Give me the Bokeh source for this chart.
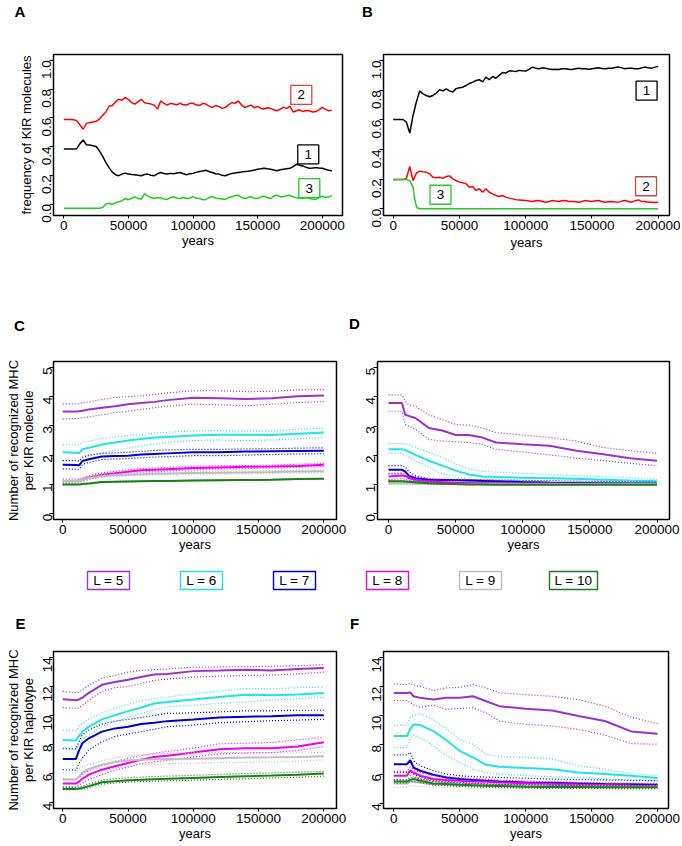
import math
from bokeh.plotting import figure
from bokeh.models import Range1d, FixedTicker, PrintfTickFormatter
from bokeh.layouts import column, row
from bokeh.embed import file_html
from bokeh.resources import INLINE
from bokeh.core.properties import value

FONT = "Liberation Sans"
TOTAL_W = 680

# ---------------- axis ticks ----------------
X_TICKS = [0, 50000, 100000, 150000, 200000]
FREQ_TICKS = [0.0, 0.2, 0.4, 0.6, 0.8, 1.0]
MOL_TICKS = [0, 1, 2, 3, 4, 5]
HAP_TICKS = [4, 6, 8, 10, 12, 14]

# ---------------- panel A / B : KIR frequencies ----------------
A_YEARS = list(range(0, 207501, 2500))
A_KIR1 = [0.382, 0.382, 0.382, 0.382, 0.385, 0.420, 0.445, 0.412, 0.410, 0.405,
          0.400, 0.370, 0.333, 0.290, 0.253, 0.222, 0.204, 0.197, 0.208, 0.215,
          0.208, 0.205, 0.204, 0.200, 0.197, 0.205, 0.208, 0.200, 0.197, 0.210,
          0.219, 0.212, 0.208, 0.213, 0.210, 0.215, 0.219, 0.210, 0.204, 0.210,
          0.213, 0.220, 0.226, 0.230, 0.235, 0.225, 0.219, 0.210, 0.208, 0.200,
          0.197, 0.205, 0.213, 0.215, 0.219, 0.222, 0.226, 0.228, 0.231, 0.236,
          0.242, 0.245, 0.249, 0.245, 0.242, 0.236, 0.231, 0.238, 0.242, 0.246,
          0.249, 0.260, 0.276, 0.270, 0.265, 0.255, 0.249, 0.250, 0.253, 0.250,
          0.249, 0.242, 0.235, 0.232]
A_KIR2 = [0.588, 0.588, 0.588, 0.586, 0.580, 0.550, 0.520, 0.560, 0.566, 0.570,
          0.575, 0.590, 0.615, 0.640, 0.680, 0.685, 0.710, 0.728, 0.722, 0.740,
          0.728, 0.705, 0.695, 0.712, 0.728, 0.705, 0.700, 0.695, 0.688, 0.660,
          0.717, 0.700, 0.688, 0.700, 0.695, 0.690, 0.701, 0.690, 0.688, 0.700,
          0.701, 0.690, 0.685, 0.700, 0.695, 0.680, 0.672, 0.685, 0.679, 0.665,
          0.672, 0.690, 0.706, 0.700, 0.717, 0.690, 0.672, 0.680, 0.688, 0.670,
          0.679, 0.665, 0.661, 0.670, 0.665, 0.655, 0.649, 0.660, 0.672, 0.665,
          0.679, 0.640, 0.649, 0.655, 0.643, 0.650, 0.649, 0.640, 0.643, 0.655,
          0.672, 0.660, 0.649, 0.652]
A_KIR3 = [-0.029, -0.029, -0.029, -0.029, -0.029, -0.029, -0.029, -0.029, -0.029, -0.029,
          -0.029, -0.029, -0.025, 0.000, 0.005, -0.003, 0.009, 0.015, 0.023, 0.038,
          0.030, 0.040, 0.050, 0.038, 0.034, 0.072, 0.055, 0.045, 0.038, 0.045,
          0.043, 0.035, 0.032, 0.045, 0.050, 0.040, 0.038, 0.045, 0.038, 0.042,
          0.050, 0.040, 0.038, 0.030, 0.032, 0.045, 0.050, 0.042, 0.038, 0.035,
          0.032, 0.045, 0.050, 0.058, 0.061, 0.045, 0.038, 0.045, 0.050, 0.040,
          0.038, 0.050, 0.054, 0.045, 0.038, 0.055, 0.061, 0.050, 0.050, 0.058,
          0.061, 0.050, 0.043, 0.040, 0.038, 0.045, 0.038, 0.035, 0.032, 0.045,
          0.054, 0.045, 0.050, 0.058]

B_YEARS = list(range(0, 200001, 2500))
B_KIR1 = [0.602, 0.602, 0.602, 0.602, 0.584, 0.510, 0.630, 0.720, 0.795, 0.775,
          0.764, 0.755, 0.764, 0.780, 0.802, 0.795, 0.809, 0.795, 0.787, 0.810,
          0.816, 0.820, 0.831, 0.845, 0.854, 0.865, 0.870, 0.855, 0.888, 0.870,
          0.892, 0.880, 0.899, 0.918, 0.915, 0.930, 0.928, 0.925, 0.933, 0.930,
          0.928, 0.940, 0.955, 0.948, 0.944, 0.950, 0.948, 0.942, 0.939, 0.940,
          0.939, 0.944, 0.944, 0.940, 0.939, 0.944, 0.948, 0.944, 0.944, 0.940,
          0.944, 0.948, 0.950, 0.945, 0.944, 0.948, 0.948, 0.952, 0.955, 0.950,
          0.944, 0.948, 0.948, 0.944, 0.944, 0.950, 0.955, 0.950, 0.948, 0.955,
          0.960]
B_KIR2 = [0.198, 0.198, 0.198, 0.198, 0.205, 0.285, 0.190, 0.240, 0.254, 0.250,
          0.247, 0.236, 0.213, 0.210, 0.213, 0.205, 0.218, 0.222, 0.202, 0.191,
          0.180, 0.175, 0.169, 0.146, 0.150, 0.124, 0.135, 0.112, 0.135, 0.112,
          0.101, 0.090, 0.083, 0.090, 0.079, 0.072, 0.067, 0.062, 0.060, 0.058,
          0.056, 0.052, 0.050, 0.055, 0.056, 0.050, 0.045, 0.050, 0.056, 0.052,
          0.050, 0.054, 0.056, 0.050, 0.049, 0.047, 0.045, 0.050, 0.056, 0.052,
          0.050, 0.055, 0.056, 0.050, 0.045, 0.048, 0.050, 0.046, 0.045, 0.052,
          0.056, 0.050, 0.045, 0.055, 0.060, 0.050, 0.049, 0.045, 0.045, 0.042,
          0.045]
B3_YEARS = [0, 10000, 12500, 15000, 16000, 17000, 18000, 20000, 200000]
B_KIR3 = [0.198, 0.198, 0.190, 0.146, 0.079, 0.034, 0.007, 0.000, 0.000]

A_TAG_TEXT = ["2", "1", "3"]
A_TAG_X = [183800, 189200, 190000]
A_TAG_Y = [0.759, 0.345, 0.110]
A_TAG_COLOR = ["#E8413A", "#000000", "#22CC22"]
B_TAG_TEXT = ["1", "2", "3"]
B_TAG_X = [191200, 190800, 35700]
B_TAG_Y = [0.797, 0.152, 0.095]
B_TAG_COLOR = ["#000000", "#B5523B", "#22CC22"]

# ---------------- panels C-F : recognised MHC ----------------
GRID = [0, 10000, 12500, 15000, 20000, 30000, 40000, 50000, 60000,
        70000, 80000, 100000, 120000, 140000, 160000, 180000, 200000]

LEVEL_LABELS = ["L = 5", "L = 6", "L = 7", "L = 8", "L = 9", "L = 10"]
LEVEL_COLORS = ["#9932CC", "#22E3E3", "#0000CD", "#EE00EE", "#BEBEBE", "#1A7F1A"]

# C : per KIR molecule, scenario 1
C5_mean = [3.49, 3.49, 3.50, 3.52, 3.56, 3.62, 3.67, 3.74, 3.78, 3.82, 3.88, 3.96, 3.94, 3.92, 3.94, 4.01, 4.04]
C5_hi = [3.75, 3.75, 3.76, 3.78, 3.82, 3.90, 3.97, 4.00, 4.03, 4.07, 4.13, 4.20, 4.20, 4.17, 4.18, 4.23, 4.24]
C5_lo = [3.24, 3.25, 3.26, 3.28, 3.31, 3.38, 3.45, 3.50, 3.56, 3.62, 3.68, 3.74, 3.72, 3.69, 3.74, 3.80, 3.83]
C6_mean = [2.10, 2.08, 2.07, 2.20, 2.25, 2.36, 2.43, 2.50, 2.55, 2.60, 2.62, 2.67, 2.70, 2.70, 2.69, 2.73, 2.77]
C6_hi = [2.36, 2.35, 2.34, 2.44, 2.48, 2.56, 2.62, 2.67, 2.70, 2.75, 2.78, 2.83, 2.84, 2.82, 2.82, 2.88, 2.92]
C6_lo = [1.83, 1.81, 1.80, 1.90, 1.97, 2.08, 2.16, 2.24, 2.32, 2.38, 2.43, 2.50, 2.52, 2.50, 2.52, 2.56, 2.60]
C7_mean = [1.67, 1.66, 1.65, 1.80, 1.86, 1.95, 1.97, 1.98, 2.02, 2.04, 2.06, 2.10, 2.10, 2.12, 2.13, 2.14, 2.15]
C7_hi = [1.81, 1.81, 1.80, 1.93, 2.00, 2.06, 2.08, 2.10, 2.13, 2.16, 2.18, 2.20, 2.20, 2.21, 2.22, 2.24, 2.25]
C7_lo = [1.53, 1.52, 1.51, 1.68, 1.75, 1.85, 1.87, 1.88, 1.91, 1.93, 1.95, 1.98, 1.98, 2.00, 2.02, 2.04, 2.05]
C8_mean = [1.12, 1.12, 1.13, 1.17, 1.24, 1.33, 1.38, 1.43, 1.48, 1.50, 1.52, 1.56, 1.58, 1.60, 1.61, 1.63, 1.67]
C8_hi = [1.18, 1.18, 1.19, 1.23, 1.30, 1.39, 1.45, 1.50, 1.54, 1.56, 1.58, 1.62, 1.64, 1.65, 1.66, 1.69, 1.72]
C8_lo = [1.06, 1.06, 1.07, 1.11, 1.18, 1.27, 1.32, 1.37, 1.42, 1.44, 1.46, 1.50, 1.52, 1.54, 1.56, 1.58, 1.61]
C9_mean = [1.12, 1.12, 1.13, 1.16, 1.22, 1.28, 1.31, 1.33, 1.35, 1.36, 1.37, 1.39, 1.40, 1.41, 1.42, 1.44, 1.45]
C9_hi = [1.17, 1.17, 1.18, 1.21, 1.27, 1.33, 1.36, 1.38, 1.40, 1.41, 1.42, 1.44, 1.45, 1.46, 1.47, 1.49, 1.50]
C9_lo = [1.07, 1.07, 1.08, 1.11, 1.17, 1.23, 1.26, 1.28, 1.30, 1.31, 1.32, 1.34, 1.35, 1.36, 1.37, 1.39, 1.40]
C10_mean = [1.00, 1.00, 1.00, 1.01, 1.03, 1.08, 1.09, 1.10, 1.11, 1.12, 1.12, 1.13, 1.14, 1.15, 1.16, 1.18, 1.19]
C10_hi = [1.01, 1.01, 1.01, 1.02, 1.04, 1.09, 1.10, 1.11, 1.12, 1.13, 1.13, 1.14, 1.15, 1.16, 1.17, 1.19, 1.20]
C10_lo = [0.99, 0.99, 0.99, 1.00, 1.02, 1.07, 1.08, 1.09, 1.10, 1.11, 1.11, 1.12, 1.13, 1.14, 1.15, 1.17, 1.18]

# D : per KIR molecule, scenario 2
D5_mean = [3.79, 3.79, 3.39, 3.35, 3.28, 2.94, 2.85, 2.70, 2.70, 2.61, 2.44, 2.38, 2.33, 2.16, 2.04, 1.90, 1.82]
D5_hi = [4.07, 4.07, 3.85, 3.73, 3.68, 3.39, 3.22, 3.06, 3.03, 2.94, 2.78, 2.70, 2.61, 2.49, 2.27, 2.16, 2.07]
D5_lo = [3.51, 3.51, 3.06, 3.00, 2.89, 2.55, 2.49, 2.47, 2.44, 2.38, 2.21, 2.12, 2.02, 1.91, 1.82, 1.73, 1.65]
D6_mean = [2.21, 2.21, 2.18, 2.13, 2.02, 1.82, 1.65, 1.48, 1.35, 1.28, 1.26, 1.24, 1.22, 1.20, 1.17, 1.14, 1.12]
D6_hi = [2.40, 2.40, 2.39, 2.38, 2.29, 2.10, 1.93, 1.71, 1.54, 1.46, 1.43, 1.39, 1.35, 1.31, 1.28, 1.24, 1.17]
D6_lo = [2.07, 2.07, 2.00, 1.95, 1.82, 1.60, 1.37, 1.26, 1.18, 1.16, 1.15, 1.12, 1.10, 1.09, 1.08, 1.07, 1.06]
D7_mean = [1.51, 1.51, 1.45, 1.31, 1.22, 1.17, 1.16, 1.15, 1.14, 1.13, 1.12, 1.09, 1.07, 1.06, 1.05, 1.04, 1.03]
D7_hi = [1.65, 1.65, 1.60, 1.45, 1.31, 1.20, 1.19, 1.18, 1.17, 1.17, 1.16, 1.15, 1.13, 1.12, 1.11, 1.10, 1.09]
D7_lo = [1.37, 1.37, 1.30, 1.20, 1.12, 1.09, 1.08, 1.07, 1.06, 1.05, 1.05, 1.04, 1.03, 1.02, 1.02, 1.01, 1.01]
D8_mean = [1.28, 1.31, 1.30, 1.24, 1.17, 1.12, 1.09, 1.07, 1.06, 1.05, 1.05, 1.04, 1.04, 1.03, 1.03, 1.03, 1.03]
D8_hi = [1.40, 1.40, 1.38, 1.33, 1.28, 1.20, 1.16, 1.13, 1.11, 1.10, 1.09, 1.08, 1.07, 1.06, 1.06, 1.05, 1.05]
D8_lo = [1.18, 1.20, 1.20, 1.15, 1.10, 1.05, 1.03, 1.02, 1.02, 1.01, 1.01, 1.01, 1.01, 1.01, 1.01, 1.01, 1.01]
D9_mean = [1.04, 1.04, 1.04, 1.04, 1.03, 1.03, 1.02, 1.02, 1.02, 1.02, 1.02, 1.02, 1.02, 1.02, 1.02, 1.02, 1.02]
D9_hi = [1.08, 1.08, 1.08, 1.07, 1.06, 1.05, 1.04, 1.04, 1.04, 1.04, 1.04, 1.04, 1.04, 1.04, 1.04, 1.04, 1.04]
D9_lo = [1.00, 1.00, 1.00, 1.00, 1.00, 1.00, 1.00, 1.00, 1.00, 1.00, 1.00, 1.00, 1.00, 1.00, 1.00, 1.00, 1.00]
D10_mean = [1.12, 1.12, 1.11, 1.10, 1.08, 1.05, 1.03, 1.02, 1.01, 1.01, 1.00, 1.00, 1.00, 1.00, 1.00, 1.00, 1.00]
D10_hi = [1.14, 1.14, 1.13, 1.12, 1.10, 1.07, 1.05, 1.03, 1.02, 1.02, 1.01, 1.01, 1.01, 1.01, 1.01, 1.01, 1.01]
D10_lo = [1.10, 1.10, 1.09, 1.08, 1.06, 1.03, 1.01, 1.00, 1.00, 1.00, 0.99, 0.99, 0.99, 0.99, 0.99, 0.99, 0.99]

# E : per KIR haplotype, scenario 1
E5_mean = [11.11, 11.05, 11.10, 11.23, 11.55, 12.11, 12.30, 12.45, 12.64, 12.82, 12.86, 13.05, 13.09, 13.14, 13.09, 13.20, 13.27]
E5_hi = [11.66, 11.57, 11.60, 11.75, 12.07, 12.57, 12.75, 12.98, 13.09, 13.15, 13.20, 13.32, 13.34, 13.36, 13.38, 13.43, 13.50]
E5_lo = [10.55, 10.48, 10.52, 10.70, 11.05, 11.66, 11.91, 12.00, 12.20, 12.41, 12.50, 12.64, 12.70, 12.75, 12.78, 12.86, 12.98]
E6_mean = [8.32, 8.27, 8.60, 8.89, 9.23, 9.73, 10.02, 10.30, 10.55, 10.82, 10.93, 11.09, 11.27, 11.43, 11.39, 11.45, 11.55]
E6_hi = [9.00, 8.95, 9.25, 9.45, 9.75, 10.18, 10.48, 10.77, 11.00, 11.15, 11.27, 11.50, 11.68, 11.84, 11.84, 11.91, 11.95]
E6_lo = [7.68, 7.64, 8.00, 8.32, 8.66, 9.23, 9.57, 9.86, 10.14, 10.40, 10.59, 10.70, 10.82, 10.93, 11.05, 11.16, 11.23]
E7_mean = [7.00, 7.00, 7.60, 8.09, 8.43, 8.89, 9.11, 9.23, 9.41, 9.50, 9.61, 9.73, 9.86, 9.91, 9.95, 10.02, 10.02]
E7_hi = [7.75, 7.70, 8.20, 8.66, 9.00, 9.41, 9.61, 9.73, 9.86, 10.00, 10.14, 10.18, 10.25, 10.32, 10.32, 10.36, 10.36]
E7_lo = [6.27, 6.23, 6.70, 7.07, 7.64, 8.20, 8.55, 8.73, 8.89, 9.05, 9.23, 9.34, 9.50, 9.57, 9.64, 9.68, 9.73]
E8_mean = [5.32, 5.32, 5.45, 5.64, 5.93, 6.27, 6.50, 6.73, 6.95, 7.14, 7.23, 7.45, 7.68, 7.75, 7.75, 7.86, 8.16]
E8_hi = [5.64, 5.59, 5.75, 5.95, 6.23, 6.55, 6.84, 7.05, 7.23, 7.40, 7.52, 7.75, 8.05, 8.09, 8.14, 8.32, 8.50]
E8_lo = [5.09, 5.09, 5.20, 5.35, 5.59, 5.93, 6.23, 6.45, 6.68, 6.80, 6.91, 7.14, 7.36, 7.41, 7.45, 7.59, 7.86]
E9_mean = [5.59, 5.59, 5.80, 6.05, 6.32, 6.61, 6.80, 6.90, 6.95, 6.98, 7.00, 7.02, 7.06, 7.10, 7.12, 7.15, 7.20]
E9_hi = [6.05, 6.05, 6.30, 6.45, 6.61, 6.90, 7.07, 7.20, 7.30, 7.35, 7.38, 7.42, 7.45, 7.45, 7.45, 7.48, 7.45]
E9_lo = [5.14, 5.14, 5.35, 5.55, 5.82, 6.15, 6.39, 6.50, 6.61, 6.65, 6.68, 6.73, 6.75, 6.77, 6.80, 6.85, 6.95]
E10_mean = [4.95, 4.95, 4.97, 5.02, 5.14, 5.41, 5.48, 5.55, 5.58, 5.62, 5.64, 5.70, 5.76, 5.82, 5.87, 5.93, 6.00]
E10_hi = [5.05, 5.05, 5.07, 5.12, 5.28, 5.55, 5.65, 5.72, 5.76, 5.80, 5.83, 5.88, 5.95, 6.00, 6.05, 6.10, 6.15]
E10_lo = [4.90, 4.90, 4.90, 4.94, 5.02, 5.28, 5.35, 5.42, 5.45, 5.48, 5.50, 5.55, 5.60, 5.65, 5.70, 5.75, 5.82]

# F : per KIR haplotype, scenario 2
F5_mean = [11.57, 11.57, 11.60, 11.34, 11.23, 11.11, 11.23, 11.23, 11.34, 11.00, 10.66, 10.48, 10.36, 9.98, 9.64, 8.93, 8.77]
F5_hi = [12.18, 12.14, 12.22, 12.10, 12.02, 11.73, 11.91, 11.95, 12.14, 11.91, 11.57, 11.45, 11.34, 11.11, 10.66, 9.91, 9.45]
F5_lo = [11.05, 11.05, 10.90, 10.75, 10.59, 10.73, 10.43, 10.50, 10.55, 10.20, 9.64, 9.41, 9.30, 9.07, 8.68, 8.09, 8.05]
F6_mean = [8.61, 8.61, 9.10, 9.41, 9.36, 8.95, 8.32, 7.59, 7.14, 6.64, 6.50, 6.41, 6.34, 6.11, 6.00, 5.89, 5.73]
F6_hi = [9.34, 9.34, 9.90, 10.05, 10.14, 9.75, 9.07, 8.39, 8.05, 7.36, 7.18, 7.14, 7.05, 6.57, 6.34, 6.05, 5.89]
F6_lo = [7.82, 7.82, 8.45, 8.68, 8.50, 7.93, 7.25, 6.80, 6.34, 6.11, 6.00, 5.89, 5.82, 5.77, 5.66, 5.60, 5.55]
F7_mean = [6.68, 6.68, 6.95, 6.45, 6.23, 5.95, 5.77, 5.66, 5.60, 5.55, 5.50, 5.43, 5.40, 5.36, 5.32, 5.30, 5.27]
F7_hi = [7.32, 7.32, 7.50, 6.91, 6.57, 6.23, 6.00, 5.89, 5.83, 5.80, 5.77, 5.72, 5.66, 5.62, 5.60, 5.57, 5.55]
F7_lo = [6.11, 6.11, 6.20, 6.00, 5.77, 5.59, 5.50, 5.43, 5.38, 5.33, 5.30, 5.27, 5.24, 5.20, 5.18, 5.16, 5.14]
F8_mean = [5.89, 5.89, 6.25, 6.11, 5.89, 5.66, 5.60, 5.55, 5.50, 5.47, 5.43, 5.38, 5.32, 5.28, 5.25, 5.22, 5.20]
F8_hi = [6.18, 6.18, 6.50, 6.30, 6.11, 5.90, 5.82, 5.75, 5.70, 5.65, 5.59, 5.52, 5.47, 5.43, 5.40, 5.38, 5.36]
F8_lo = [5.59, 5.59, 5.89, 5.85, 5.66, 5.50, 5.43, 5.38, 5.34, 5.30, 5.28, 5.27, 5.22, 5.18, 5.14, 5.11, 5.09]
F9_mean = [5.35, 5.35, 5.50, 5.45, 5.40, 5.30, 5.25, 5.22, 5.20, 5.18, 5.17, 5.15, 5.13, 5.12, 5.11, 5.10, 5.10]
F9_hi = [5.60, 5.60, 5.80, 5.70, 5.60, 5.50, 5.42, 5.38, 5.35, 5.32, 5.30, 5.27, 5.25, 5.23, 5.22, 5.20, 5.20]
F9_lo = [5.10, 5.10, 5.20, 5.18, 5.15, 5.10, 5.07, 5.05, 5.04, 5.03, 5.03, 5.02, 5.02, 5.02, 5.02, 5.02, 5.02]
F10_mean = [5.50, 5.50, 5.60, 5.66, 5.55, 5.36, 5.32, 5.27, 5.24, 5.20, 5.18, 5.14, 5.12, 5.11, 5.10, 5.09, 5.09]
F10_hi = [5.62, 5.62, 5.72, 5.78, 5.68, 5.50, 5.44, 5.38, 5.34, 5.30, 5.28, 5.25, 5.23, 5.21, 5.20, 5.19, 5.18]
F10_lo = [5.38, 5.38, 5.47, 5.52, 5.42, 5.25, 5.20, 5.16, 5.12, 5.10, 5.08, 5.05, 5.03, 5.02, 5.01, 5.00, 5.00]

C_SERIES = [(C5_mean, C5_hi, C5_lo), (C6_mean, C6_hi, C6_lo), (C7_mean, C7_hi, C7_lo),
            (C8_mean, C8_hi, C8_lo), (C9_mean, C9_hi, C9_lo), (C10_mean, C10_hi, C10_lo)]
D_SERIES = [(D5_mean, D5_hi, D5_lo), (D6_mean, D6_hi, D6_lo), (D7_mean, D7_hi, D7_lo),
            (D8_mean, D8_hi, D8_lo), (D9_mean, D9_hi, D9_lo), (D10_mean, D10_hi, D10_lo)]
E_SERIES = [(E5_mean, E5_hi, E5_lo), (E6_mean, E6_hi, E6_lo), (E7_mean, E7_hi, E7_lo),
            (E8_mean, E8_hi, E8_lo), (E9_mean, E9_hi, E9_lo), (E10_mean, E10_hi, E10_lo)]
F_SERIES = [(F5_mean, F5_hi, F5_lo), (F6_mean, F6_hi, F6_lo), (F7_mean, F7_hi, F7_lo),
            (F8_mean, F8_hi, F8_lo), (F9_mean, F9_hi, F9_lo), (F10_mean, F10_hi, F10_lo)]


# ---------------- helpers ----------------
def panel(w, h, bl, br, bt, bb, xr, yr, yticks, yfmt, ylabel=None, xlabel_standoff=0,
          two_line=False):
    p = figure(width=w, height=h, x_range=Range1d(*xr), y_range=Range1d(*yr),
               min_border_left=bl, min_border_right=br, min_border_top=bt,
               min_border_bottom=bb, output_backend="svg", toolbar_location=None,
               tools="", title=None)
    p.grid.visible = False
    p.outline_line_color = "black"
    p.outline_line_width = 1.5
    p.background_fill_color = "white"
    p.border_fill_color = "white"
    for ax in (p.xaxis[0], p.yaxis[0]):
        ax.axis_line_color = None
        ax.major_tick_line_color = "black"
        ax.major_tick_line_width = 1
        ax.major_tick_in = 0
        ax.minor_tick_line_color = None
        ax.major_label_text_font = FONT
        ax.major_label_text_font_size = "13.5px"
        ax.major_label_text_color = "black"
        ax.axis_label_text_font = FONT
        ax.axis_label_text_font_size = "13px"
        ax.axis_label_text_font_style = "normal"
        ax.axis_label_text_color = "black"
    p.xaxis.ticker = FixedTicker(ticks=X_TICKS)
    p.xaxis.formatter = PrintfTickFormatter(format="%d")
    p.xaxis.major_tick_out = 3
    p.xaxis.major_label_standoff = 2
    p.xaxis.axis_label = "years"
    p.xaxis.axis_label_standoff = xlabel_standoff
    p.yaxis.ticker = FixedTicker(ticks=yticks)
    p.yaxis.formatter = PrintfTickFormatter(format=yfmt)
    p.yaxis.major_tick_out = 4
    p.yaxis.major_label_standoff = 2 if two_line else 3
    p.yaxis.major_label_orientation = math.pi / 2
    if ylabel:
        p.yaxis.axis_label = ylabel
        p.yaxis.axis_label_standoff = 0 if two_line else 1
        p.yaxis.axis_label_text_line_height = 1.0 if two_line else 1.2
    return p


def strip(h, xs, ys, letters):
    s = figure(width=TOTAL_W, height=h, x_range=Range1d(0, TOTAL_W), y_range=Range1d(0, h),
               min_border=0, output_backend="svg", toolbar_location=None, tools="",
               title=None, x_axis_location=None, y_axis_location=None)
    s.grid.visible = False
    s.outline_line_color = None
    s.text(x=xs, y=ys, text=letters, text_font=value(FONT), text_font_size="15px",
           text_font_style="bold", text_align="center", text_baseline="middle",
           text_color="black")
    return s


def tags(p, xs, ys, texts, colors):
    p.rect(x=xs, y=ys, width=21, height=19, width_units="screen", height_units="screen",
           fill_color=None, line_color=colors, line_width=1.3)
    p.text(x=xs, y=ys, text=texts, text_font=value(FONT), text_font_size="13.5px",
           text_align="center", text_baseline="middle", text_color="black")


def bands(p, series):
    for (m, hi, lo), col in zip(series, LEVEL_COLORS):
        p.line(GRID, hi, line_color=col, line_width=1.2, line_dash="1 2")
        p.line(GRID, lo, line_color=col, line_width=1.2, line_dash="1 2")
        p.line(GRID, m, line_color=col, line_width=2)


# ---------------- row 1 : A, B ----------------
s1 = strip(40, [19.5, 367], [29, 29], ["A", "B"])

pA = panel(346, 220, 53, 4, 14, 41, (-8000, 215700), (-0.08, 1.04), FREQ_TICKS, "%.1f",
           ylabel="frequency of KIR molecules")
pA.line(A_YEARS, A_KIR2, line_color="#FF0000", line_width=1.5)
pA.line(A_YEARS, A_KIR1, line_color="black", line_width=1.5)
pA.line(A_YEARS, A_KIR3, line_color="#22CC22", line_width=1.5)
tags(pA, A_TAG_X, A_TAG_Y, A_TAG_TEXT, A_TAG_COLOR)

pB = panel(334, 220, 37, 11, 14, 45, (-7300, 208500), (-0.045, 1.04), FREQ_TICKS, "%.1f",
           xlabel_standoff=2)
pB.line(B_YEARS, B_KIR1, line_color="black", line_width=1.5)
pB.line(B_YEARS, B_KIR2, line_color="#FF0000", line_width=1.5)
pB.line(B3_YEARS, B_KIR3, line_color="#22CC22", line_width=1.5)
tags(pB, B_TAG_X, B_TAG_Y, B_TAG_TEXT, B_TAG_COLOR)

# ---------------- row 2 : C, D ----------------
s2 = strip(80, [19, 354], [15, 17], ["C", "D"])

pC = panel(348, 220, 53, 12, 21, 41, (-7100, 209700), (-0.2, 5.2), MOL_TICKS, "%d",
           ylabel="Number of recognized MHC\nper KIR molecule", two_line=True)
bands(pC, C_SERIES)

pD = panel(332, 220, 29, 11, 18, 40, (-8200, 209300), (-0.19, 5.21), MOL_TICKS, "%d")
bands(pD, D_SERIES)

# ---------------- row 3 : legend ----------------
pL = figure(width=TOTAL_W, height=40, x_range=Range1d(-108 / 93, (TOTAL_W - 108) / 93),
            y_range=Range1d(0, 40), min_border=0, output_backend="svg",
            toolbar_location=None, tools="", title=None,
            x_axis_location=None, y_axis_location=None)
pL.grid.visible = False
pL.outline_line_color = None
leg_x = list(range(len(LEVEL_LABELS)))
leg_y = [20] * len(LEVEL_LABELS)
leg_w = [42 if len(t) == 5 else 48 for t in LEVEL_LABELS]
pL.rect(x=leg_x, y=leg_y, width=leg_w, height=18, width_units="screen", height_units="screen",
        fill_color=None, line_color=LEVEL_COLORS, line_width=1.4)
pL.text(x=leg_x, y=leg_y, text=LEVEL_LABELS, text_font=value(FONT), text_font_size="13.5px",
        text_align="center", text_baseline="middle", text_color="black")

# ---------------- row 4 : E, F ----------------
s4 = strip(40, [20, 354], [17.5, 17], ["E", "F"])

pE = panel(348, 204, 53, 12, 11, 35, (-7100, 209700), (3.6, 14.4), HAP_TICKS, "%d",
           ylabel="Number of recognized MHC\nper KIR haplotype", two_line=True)
bands(pE, E_SERIES)

pF = panel(332, 204, 35, 12, 10, 36, (-7800, 208300), (3.64, 14.41), HAP_TICKS, "%d")
bands(pF, F_SERIES)

layout = column(s1, row(pA, pB), s2, row(pC, pD), pL, s4, row(pE, pF))
open("out.html", "w").write(file_html(layout, INLINE))
